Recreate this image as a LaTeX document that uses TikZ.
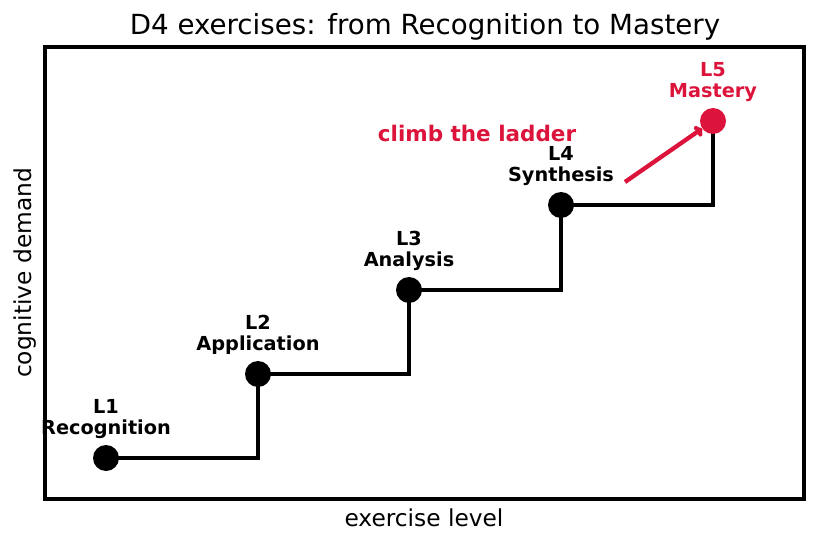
\documentclass[tikz,border=0pt]{standalone}
\usepackage{fontspec}
\setmainfont{DejaVu Sans}
\usetikzlibrary{arrows.meta,positioning}
\definecolor{crim}{RGB}{220,20,60}
\tikzset{
  dot/.style={circle,fill=black,inner sep=0pt,minimum size=26pt},
  lab/.style={align=center,inner sep=0pt,font=\fontsize{19.3}{21}\selectfont\bfseries},
  stair/.style={line width=4.3pt},
}
\begin{document}
\begin{tikzpicture}[x=1pt,y=-1pt]
\useasboundingbox (0,0) rectangle (818,545);
\node[font=\fontsize{27.7}{32}\selectfont] (title) at (425,27) {D4 exercises: from Recognition to Mastery};
\node[draw,line width=4.8pt,minimum width=759pt,minimum height=452pt,inner sep=0pt] (frame) at (424.5,273) {};
\node[font=\fontsize{23.3}{26}\selectfont] (xl) at (424,518) {exercise level};
\node[font=\fontsize{23.3}{26}\selectfont,rotate=90] (yl) at (25,273) {cognitive demand};
\coordinate (p1) at (106,458);
\coordinate (p2) at (258,374);
\coordinate (p3) at (409,290);
\coordinate (p4) at (561,205);
\coordinate (p5) at (713,121);
\draw[stair] (p1) -| (p2);
\draw[stair] (p2) -| (p3);
\draw[stair] (p3) -| (p4);
\draw[stair] (p4) -| (p5);
\node[dot] (d1) at (p1) {};
\node[dot] (d2) at (p2) {};
\node[dot] (d3) at (p3) {};
\node[dot] (d4) at (p4) {};
\node[dot,fill=crim] (d5) at (p5) {};
\node[lab,above=6pt of d1] (t1) {L1\\Recognition};
\node[lab,above=6pt of d2] (t2) {L2\\Application};
\node[lab,above=6pt of d3] (t3) {L3\\Analysis};
\node[lab,above=6pt of d4] (t4) {L4\\Synthesis};
\node[lab,text=crim,above=6pt of d5] (t5) {L5\\Mastery};
\node[font=\fontsize{21.5}{24}\selectfont\bfseries,text=crim] (climb) at (477,133.5) {climb the ladder};
\coordinate (a0) at (625,182);
\draw[crim,line width=4.3pt,-{To[length=7pt,width=12pt]}] (a0) -- (d5);
\end{tikzpicture}
\end{document}
